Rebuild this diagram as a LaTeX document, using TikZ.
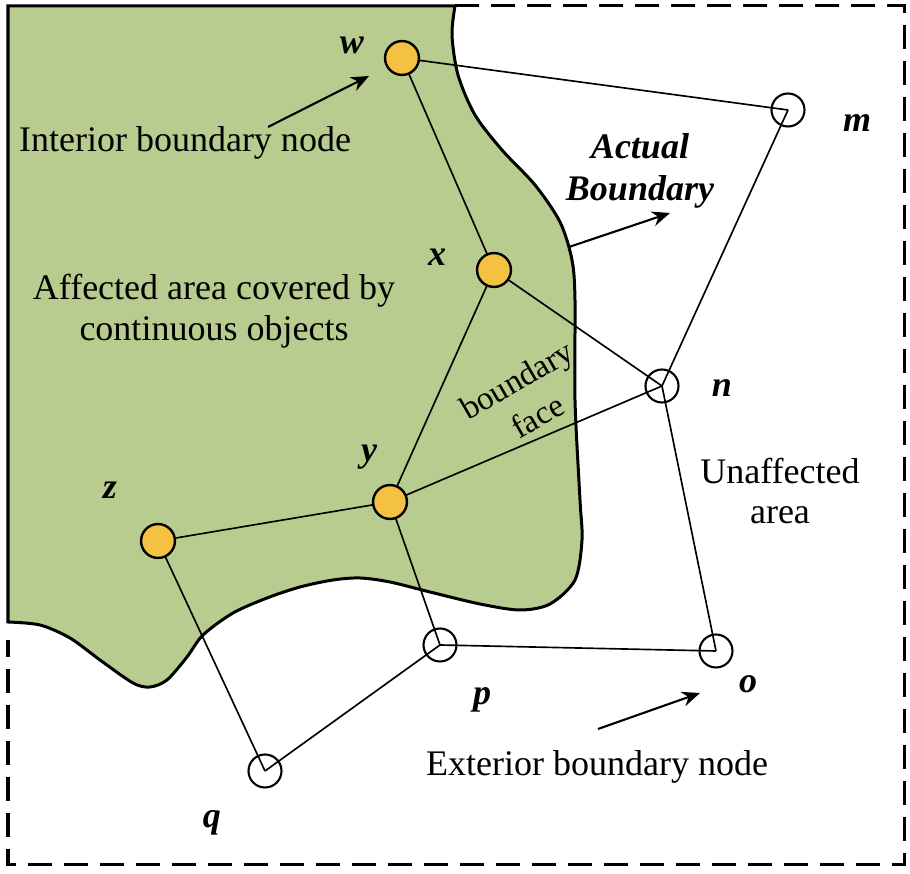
\documentclass[tikz,border=0pt]{standalone}
\usepackage{fontspec}
\setmainfont{Liberation Serif}
\usetikzlibrary{arrows.meta,backgrounds}
\definecolor{areagreen}{RGB}{185,204,143}
\definecolor{nodeorange}{RGB}{245,193,66}

\begin{document}
\begin{tikzpicture}[
    x=0.3333pt, y=-0.3333pt,
    inode/.style={circle, draw=black, line width=0.8pt, fill=nodeorange, minimum size=11.3pt, inner sep=0pt},
    enode/.style={circle, draw=black, line width=0.7pt, minimum size=11pt, inner sep=0pt},
    lbl/.style={font=\fontsize{12}{14}\selectfont\bfseries\itshape},
    txt/.style={font=\fontsize{12}{13.5}\selectfont, align=center},
    link/.style={line width=0.55pt},
    pointer/.style={-{Stealth[length=6pt,width=5pt]}, line width=0.7pt}
]
\useasboundingbox (0,0) rectangle (910,874);

% interior boundary nodes
\node[inode] (w) at (402,58) {};
\node[inode] (x) at (494,270) {};
\node[inode] (y) at (390,502) {};
\node[inode] (z) at (158,541) {};

% exterior boundary nodes
\node[enode] (m) at (788,110) {};
\node[enode] (n) at (662,386) {};
\node[enode] (o) at (716,651) {};
\node[enode] (p) at (440,645) {};
\node[enode] (q) at (265,771) {};

% node names
\node[lbl] (lw) at (352,45) {w};
\node[lbl] (lx) at (437,257) {x};
\node[lbl] (ly) at (369,457) {y};
\node[lbl] (lz) at (110,490) {z};
\node[lbl] (lm) at (857,123) {m};
\node[lbl] (ln) at (722,388) {n};
\node[lbl] (lo) at (748,684) {o};
\node[lbl] (lp) at (482,700) {p};
\node[lbl] (lq) at (212,823) {q};

% texts
\node[txt] (intlbl) at (185,143) {Interior boundary node};
\node[txt] (affected) at (214,311) {Affected area covered by\\continuous objects};
\node[lbl, align=center, font=\fontsize{12}{14}\selectfont\bfseries\itshape] (actual) at (640,171) {Actual\\Boundary};
\node[txt, rotate=30, inner sep=0pt, font=\fontsize{11}{14}\selectfont] (face) at (527,398) {boundary\\face};
\node[txt] (unaff) at (780,491) {Unaffected\\area};
\node[txt] (extlbl) at (597,767) {Exterior boundary node};

% pointers
\coordinate (a1s) at (268,127);
\coordinate (a1e) at (369,76);
\coordinate (a2s) at (569,247);
\coordinate (a2e) at (670,213);
\coordinate (a3s) at (598,729);
\coordinate (a3e) at (700,693);
\draw[pointer] (a1s) -- (a1e);
\draw[pointer] (a2s) -- (a2e);
\draw[pointer] (a3s) -- (a3e);

\begin{scope}[on background layer]
% affected area
\draw[fill=areagreen, line width=1pt] (8,6) -- plot[smooth] coordinates {
    (455,6) (452,35) (458,75) (475,115) (502,150) (535,185) (560,222) (572,260)
    (575,300) (575,400) (580,500) (582,540) (575,580) (550,604) (520,610) (480,604)
    (430,592) (390,582) (360,578) (333,580) (300,587) (267,598) (233,613) (203,635)
    (187,657) (167,680) (150,687) (133,683) (100,660) (70,638) (40,625) (8,622)} -- cycle;
% frame
\draw[line width=1pt, dash pattern=on 8pt off 4pt] (455,6) -- (904,6) -- (904,865) -- (8,865) -- (8,640);
% links
\draw[link] (w.center) -- (m.center);
\draw[link] (w.center) -- (x.center);
\draw[link] (x.center) -- (y.center);
\draw[link] (x.center) -- (n.center);
\draw[link] (y.center) -- (z.center);
\draw[link] (y.center) -- (n.center);
\draw[link] (y.center) -- (p.center);
\draw[link] (z.center) -- (q.center);
\draw[link] (q.center) -- (p.center);
\draw[link] (p.center) -- (o.center);
\draw[link] (o.center) -- (n.center);
\draw[link] (n.center) -- (m.center);
\end{scope}

\end{tikzpicture}
\end{document}
